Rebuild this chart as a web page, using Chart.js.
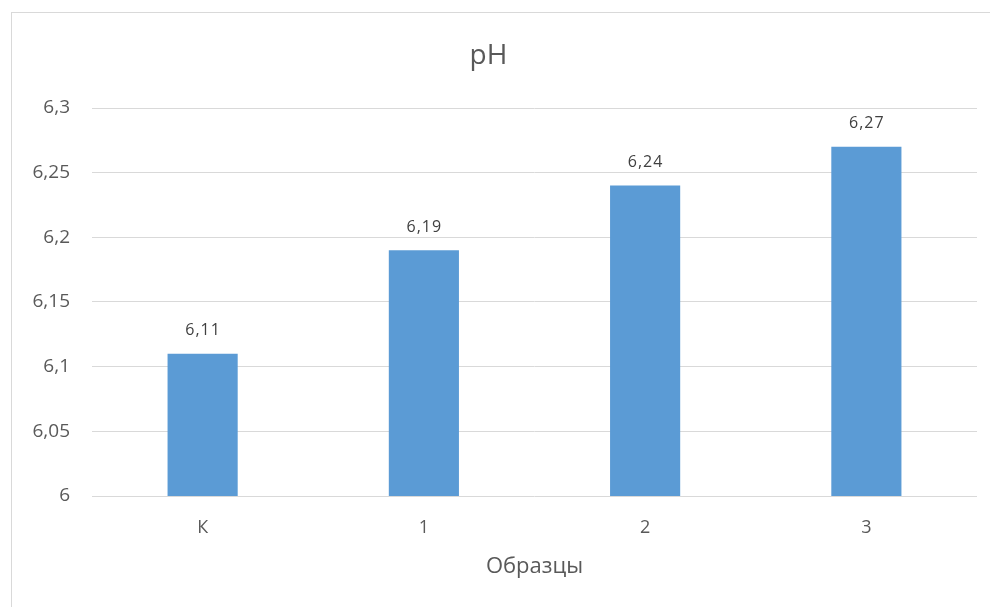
<!DOCTYPE html>
<html>
<head>
<meta charset="utf-8">
<script src="https://cdn.jsdelivr.net/npm/chart.js@4/dist/chart.umd.min.js"></script>
<style>
  html, body { margin: 0; padding: 0; background: #ffffff; overflow: hidden; }
  #frame {
    position: absolute; left: 11px; top: 12px;
    width: 1000px; height: 620px;
    border: 1px solid #d9d9d9; box-sizing: border-box;
  }
  #wrap { position: absolute; left: 0; top: 0; width: 990px; height: 607px; }
</style>
</head>
<body>
<div id="frame"></div>
<div id="wrap"><canvas id="chart" width="990" height="607"></canvas></div>
<script>
// Samples and measured pH
const categories = ['К', '1', '2', '3'];
const phValues = [6.11, 6.19, 6.24, 6.27];

const chartTitle = 'pH';
const xAxisTitle = 'Образцы';
const yMin = 6;
const yMax = 6.3;
const yStep = 0.05;

const FONT = "'Open Sans', sans-serif";
const TEXT_GREY = '#595959';

// Russian decimal style: comma instead of point
function fmt(v) {
  return String(Number(v.toFixed(2))).replace('.', ',');
}

// Value labels above each bar
const valueLabels = {
  id: 'valueLabels',
  afterDatasetsDraw(chart) {
    const ctx = chart.ctx;
    const meta = chart.getDatasetMeta(0);
    const data = chart.data.datasets[0].data;
    ctx.save();
    ctx.font = '16px ' + FONT;
    ctx.fillStyle = '#404040';
    ctx.textAlign = 'center';
    ctx.textBaseline = 'middle';
    if ('letterSpacing' in ctx) ctx.letterSpacing = '1px';
    meta.data.forEach((bar, i) => {
      ctx.fillText(fmt(data[i]), bar.x + 0.5, bar.y - 23);
    });
    ctx.restore();
  }
};

new Chart(document.getElementById('chart'), {
  type: 'bar',
  data: {
    labels: categories,
    datasets: [{
      data: phValues,
      backgroundColor: '#5b9bd5',
      borderWidth: 0,
      barPercentage: 0.317,
      categoryPercentage: 1
    }]
  },
  options: {
    responsive: false,
    animation: false,
    layout: { padding: { left: 0, right: 13, top: 0, bottom: 26.8 } },
    plugins: {
      legend: { display: false },
      tooltip: { enabled: false },
      title: {
        display: true,
        text: chartTitle,
        color: TEXT_GREY,
        font: { family: FONT, size: 28, weight: 'normal', lineHeight: 1.2 },
        padding: { top: 39, bottom: 35.4 }
      }
    },
    scales: {
      x: {
        grid: { display: false, drawTicks: false },
        border: { display: false },
        ticks: {
          color: TEXT_GREY,
          padding: 21,
          font: { family: FONT, size: 18, lineHeight: 1.2 }
        },
        title: {
          display: true,
          text: xAxisTitle,
          color: TEXT_GREY,
          font: { family: FONT, size: 22, lineHeight: 1.2 },
          padding: { top: 0, bottom: 0 }
        },
        afterFit(scale) { scale.height = 84.2; }
      },
      y: {
        min: yMin,
        max: yMax,
        grid: { color: '#d9d9d9', lineWidth: 1, drawTicks: false },
        border: { display: false },
        ticks: {
          stepSize: yStep,
          color: TEXT_GREY,
          padding: 22,
          font: { family: FONT, size: 19, lineHeight: 1.2 },
          callback: (v) => fmt(v)
        },
        afterFit(scale) { scale.width = 92; }
      }
    }
  },
  plugins: [valueLabels]
});
</script>
</body>
</html>
